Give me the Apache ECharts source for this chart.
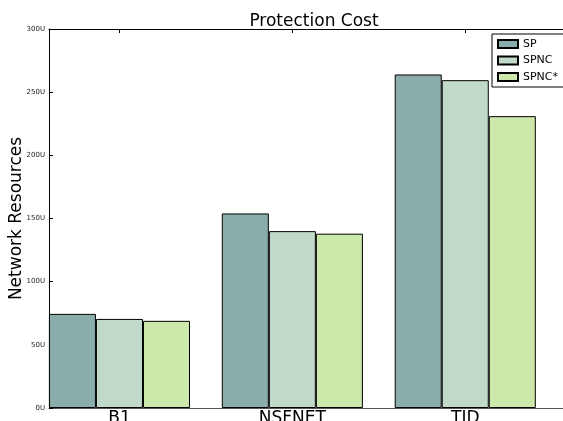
<!DOCTYPE html>
<html>
<head>
<meta charset="utf-8">
<script src="https://cdn.jsdelivr.net/npm/echarts@6/dist/echarts.min.js"></script>
<style>
  html, body { margin: 0; padding: 0; background: #fff; }
  #chart { width: 563px; height: 421px; }
</style>
</head>
<body>
<div id="chart"></div>
<script>
// Topologies compared and the network resources each protection scheme needs
const categories = ['B1', 'NSFNET', 'TID'];
const seriesNames = ['SP', 'SPNC', 'SPNC*'];
const spValues = [74.5, 154, 264];
const spncValues = [70.5, 140, 259.5];
const spncStarValues = [69, 138, 231];
const yTicks = [0, 50, 100, 150, 200, 250, 300];

const colors = ['#8aadac', '#c1d9c8', '#cde8ab'];
const categoryPositions = categories.map((_, i) => i);

function toPoints(values) {
  return values.map((v, i) => [i, v]);
}

const font = 'DejaVu Sans';
const chart = echarts.init(document.getElementById('chart'), null, { renderer: 'canvas' });

const barSeries = [spValues, spncValues, spncStarValues].map((vals, i) => ({
  name: seriesNames[i],
  type: 'bar',
  data: toPoints(vals),
  barWidth: '27.2%',
  barGap: '0%',
  itemStyle: { color: colors[i], borderColor: '#000', borderWidth: 1 },
  emphasis: { disabled: true }
}));

chart.setOption({
  animation: false,
  backgroundColor: '#fff',
  title: {
    text: 'Protection Cost',
    left: 309, top: 8, textAlign: 'center',
    textStyle: { fontFamily: font, fontSize: 17, fontWeight: 'normal', color: '#000' }
  },
  legend: {
    data: seriesNames,
    orient: 'vertical',
    left: 492, top: 34,
    padding: [4, 12, 4, 5],
    itemWidth: 20, itemHeight: 8, itemGap: 4.5,
    icon: 'rect',
    backgroundColor: '#fff',
    borderColor: '#000', borderWidth: 1, borderRadius: 0,
    textStyle: { fontFamily: font, fontSize: 11, lineHeight: 12, color: '#000' }
  },
  grid: { left: 49, right: -6, top: 29, bottom: 13, containLabel: false, outerBoundsMode: 'none' },
  xAxis: [
    {
      type: 'value',
      min: -0.4075, max: 2.6,
      axisLine: { show: true, onZero: false, lineStyle: { color: '#555', width: 1 } },
      axisTick: { show: true, inside: true, length: 4, customValues: categoryPositions, lineStyle: { color: '#000' } },
      axisLabel: {
        show: true, customValues: categoryPositions, margin: 2,
        formatter: v => categories[Math.round(v)] || '',
        fontFamily: font, fontSize: 17, color: '#000'
      },
      splitLine: { show: false }
    },
    {
      type: 'value', position: 'top',
      min: -0.4075, max: 2.6,
      axisLine: { show: true, onZero: false, lineStyle: { color: '#000', width: 1 } },
      axisTick: { show: true, inside: true, length: 4, customValues: categoryPositions, lineStyle: { color: '#000' } },
      axisLabel: { show: false },
      splitLine: { show: false }
    }
  ],
  yAxis: {
    type: 'value', min: 0, max: 300, interval: 50,
    name: 'Network Resources', nameLocation: 'middle', nameGap: 24,
    nameMoveOverlap: false,
    nameTextStyle: { fontFamily: font, fontSize: 17, color: '#000' },
    axisLine: { show: true, onZero: false, lineStyle: { color: '#000', width: 1 } },
    axisTick: { show: true, inside: true, length: 4, lineStyle: { color: '#000' } },
    axisLabel: {
      margin: 4, fontFamily: font, fontSize: 7, color: '#222',
      customValues: yTicks,
      formatter: v => v + 'U'
    },
    splitLine: { show: false }
  },
  series: barSeries
});
</script>
</body>
</html>
